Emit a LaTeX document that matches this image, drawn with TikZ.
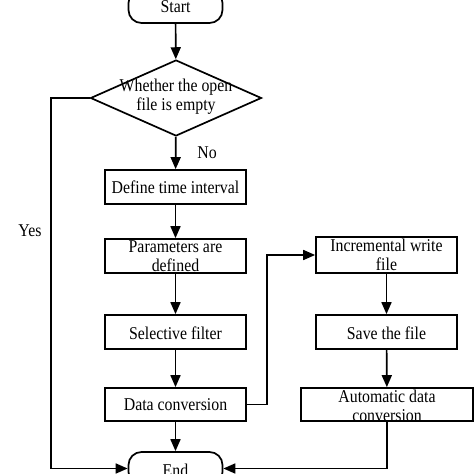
\documentclass[tikz,border=0pt]{standalone}
\usepackage{fontspec}
\setmainfont{Liberation Serif}[FakeStretch=0.88]
\usetikzlibrary{arrows.meta,shapes.geometric}
\begin{document}
\begin{tikzpicture}[x=1pt,y=-1pt,
  line width=1.7pt,
  every node/.style={font=\fontsize{18}{19}\selectfont},
  box/.style={draw, rectangle, inner sep=0pt, minimum width=141pt, minimum height=34pt},
  term/.style={draw, rectangle, rounded corners=13pt, inner sep=0pt, minimum width=94pt, minimum height=33pt},
  txt/.style={align=center, inner sep=0pt},
  arr/.style={-{Triangle[length=12pt,width=10pt]}}
]
\useasboundingbox (0,0) rectangle (474,474);
\node[term] (start) at (175.5,6.5) {};
\node[txt] (starttxt) at (175.5,7) {Start};
\node[draw, diamond, inner sep=0pt, minimum width=171pt, minimum height=76pt] (dec) at (176,98) {};
\node[txt] (dectxt) at (176,97) {Whether the open\\file is empty};
\node[box] (def) at (175.5,187) {};
\node[txt] (deftxt) at (175.5,187) {Define time interval};
\node[box] (par) at (175.5,256) {};
\node[txt] (partxt) at (175.5,256) {Parameters are\\defined};
\node[box] (sel) at (175.5,332) {};
\node[txt] (seltxt) at (175.5,333) {Selective filter};
\node[box, minimum height=33pt] (dat) at (175.5,404.5) {};
\node[txt] (dattxt) at (175.5,405) {Data conversion};
\node[term] (endn) at (175.5,468.5) {};
\node[txt] (endtxt) at (175.5,470) {End};
\node[box, minimum height=36pt] (inc) at (386.5,255) {};
\node[txt] (inctxt) at (386.5,255) {Incremental write\\file};
\node[box] (sav) at (386.5,332) {};
\node[txt] (savtxt) at (386.5,333) {Save the file};
\node[box, minimum width=172pt, minimum height=33pt] (aut) at (387,404.5) {};
\node[txt] (auttxt) at (387,406) {Automatic data\\conversion};
\node[txt] (yes) at (30,231) {Yes};
\node[txt] (no) at (207,153) {No};
\coordinate (yl) at (51,98);
\coordinate (dj) at (267,404.5);
\draw[arr] (start) -- (dec);
\draw[arr] (dec) -- (def);
\draw[arr] (def) -- (par);
\draw[arr] (par) -- (sel);
\draw[arr] (sel) -- (dat);
\draw[arr] (dat) -- (endn);
\draw[arr] (inc) -- (sav);
\draw[arr] (sav) -- (aut);
\draw[arr] (dec.west) -- (yl) |- (endn.west);
\draw[arr] (dat.east) -- (dj) |- (inc.west);
\draw[arr] (aut.south) |- (endn.east);
\end{tikzpicture}
\end{document}
